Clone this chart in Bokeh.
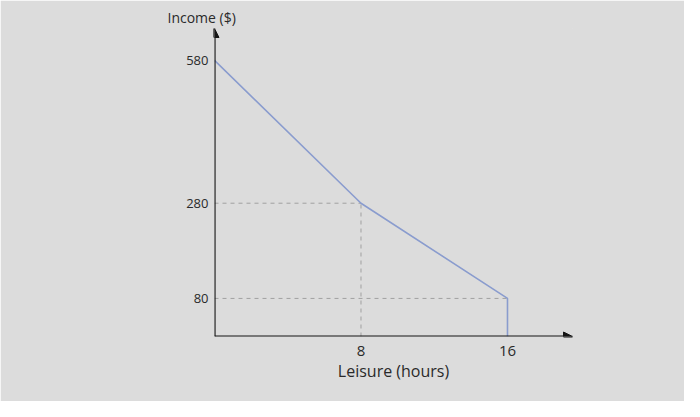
from bokeh.plotting import figure
from bokeh.models import FixedTicker, Arrow, NormalHead, Range1d
from bokeh.embed import file_html
from bokeh.resources import INLINE

# Budget constraint data
leisure = [0, 8, 16, 16]
income = [580, 280, 80, 0]
x_ticks = [8, 16]
y_ticks = [80, 280, 580]
x_max = 19.55      # end of the x axis arrow
y_max = 647        # end of the y axis arrow

bg = "#dcdcdc"
p = figure(width=684, height=401, output_backend="svg", toolbar_location=None,
           x_range=Range1d(0, x_max), y_range=Range1d(0, y_max),
           min_border_left=214, min_border_right=112, min_border_top=28, min_border_bottom=65,
           background_fill_color=bg, border_fill_color=bg,
           outline_line_color=bg, outline_line_width=1)
p.grid.visible = False

p.title.text = "Income ($)"
p.title.align = "left"
p.title.offset = -47
p.title.text_font = "Open Sans"
p.title.text_font_style = "normal"
p.title.text_font_size = "14px"
p.title.text_color = "#2a2a2a"
p.title.standoff = 4

for ax in (p.xaxis, p.yaxis):
    ax.axis_line_color = None
    ax.major_tick_out = 0
    ax.major_tick_in = 0
    ax.minor_tick_out = 0
    ax.minor_tick_in = 0
    ax.major_label_text_font = "Open Sans"
    ax.major_label_text_color = "#2a2a2a"
p.xaxis.major_label_text_font_size = "15px"
p.yaxis.major_label_text_font_size = "13px"
p.xaxis.ticker = FixedTicker(ticks=x_ticks)
p.yaxis.ticker = FixedTicker(ticks=y_ticks)
p.xaxis.major_label_standoff = 9
p.yaxis.major_label_standoff = 6
p.xaxis.axis_label = "Leisure (hours)"
p.xaxis.axis_label_text_font = "Open Sans"
p.xaxis.axis_label_text_font_style = "normal"
p.xaxis.axis_label_text_font_size = "16px"
p.xaxis.axis_label_text_color = "#2a2a2a"
p.xaxis.axis_label_standoff = 1

# dashed guides
guide = dict(line_color="#a0a0a0", line_dash="4 4", line_width=1)
p.line([0, leisure[1]], [income[1], income[1]], **guide)
p.line([leisure[1], leisure[1]], [0, income[1]], **guide)
p.line([0, leisure[2]], [income[2], income[2]], **guide)

# budget line
p.line(leisure, income, line_color="#8a9cce", line_width=1.6)

# axes drawn as arrows
head = dict(size=9, fill_color="#151515", line_color="#151515")
p.add_layout(Arrow(end=NormalHead(**head), x_start=0, y_start=0, x_end=x_max, y_end=0,
                   line_width=2.2, line_color="#151515"))
p.add_layout(Arrow(end=NormalHead(**head), x_start=0, y_start=0, x_end=0, y_end=y_max,
                   line_width=2.2, line_color="#151515"))

open("out.html", "w").write(file_html(p, INLINE))
